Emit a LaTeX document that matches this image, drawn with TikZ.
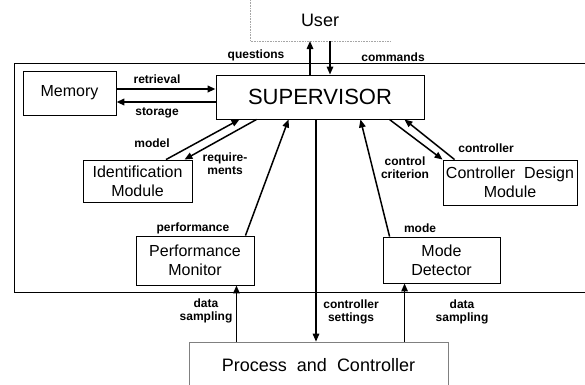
\documentclass[tikz,border=0pt]{standalone}
\usepackage{fontspec}
\setmainfont{Liberation Sans}
\usetikzlibrary{arrows.meta,calc}
\begin{document}
\begin{tikzpicture}[x=1pt,y=-1pt,
  box/.style={draw,line width=0.9pt,inner sep=0pt,align=center,font=\fontsize{16}{19}\selectfont},
  lab/.style={font=\bfseries\fontsize{12}{13}\selectfont,inner sep=0pt,align=center},
  arr/.style={line width=1.5pt,-{Triangle[length=8pt,width=6.5pt]}},
  thickarr/.style={arr,line width=2.4pt},
  frame/.style={line width=0.8pt},
  faint/.style={gray!70,line width=0.6pt,densely dotted}
]
\useasboundingbox (0,0) rectangle (585,384);
\clip (0,0) rectangle (585,384);

% outer frame
\coordinate (ftr) at (585,63);
\coordinate (ftl) at (14,63);
\coordinate (fbl) at (14,292);
\coordinate (fbr) at (585,292);
\draw[frame] (ftr) -- (ftl) -- (fbl) -- (fbr);

% user
\node[font=\fontsize{18}{20}\selectfont,inner sep=0pt] (user) at (320,20) {User};
\coordinate (utl) at (250,0);
\coordinate (ubl) at (250,41);
\coordinate (ubr) at (390,41);
\draw[faint] (utl) -- (ubl) -- (ubr);

% boxes
\node[box,minimum width=93pt,minimum height=44pt] (mem) at (69.5,93) {Memory};
\node[box,minimum width=208pt,minimum height=44pt,font=\fontsize{22}{24}\selectfont] (sup) at (320,97) {SUPERVISOR};
\node[box,minimum width=109pt,minimum height=42pt] (ident) at (137.5,181) {Identification\\Module};
\node[box,minimum width=134pt,minimum height=45pt] (cdm) at (510,182.5) {Controller\ \ Design\\Module};
\node[box,minimum width=118pt,minimum height=49pt] (pm) at (195,260.5) {Performance\\Monitor};
\node[box,minimum width=117pt,minimum height=46pt] (md) at (441.5,260) {Mode\\Detector};
\node[box,draw=gray,line width=0.7pt,minimum width=259pt,minimum height=46pt,font=\fontsize{18}{20}\selectfont] (proc) at (318.5,365) {Process\ \ and\ \ Controller};

% user arrows
\draw[arr] ([xshift=-10pt]sup.north) -- ([xshift=-10pt]sup.north |- ubl);
\draw[arr] ([xshift=10pt]sup.north |- ubl) -- ([xshift=10pt]sup.north);
\node[lab] (lq) at (256,55) {questions};
\node[lab] (lc) at (393,57) {commands};

% memory arrows
\draw[thickarr] ([yshift=4pt]mem.east) -- ([yshift=4pt]mem.east -| sup.west);
\draw[thickarr] ([yshift=-9pt]mem.east -| sup.west) -- ([yshift=-9pt]mem.east);
\node[lab] (lret) at (157,79) {retrieval};
\node[lab] (lsto) at (157,113) {storage};

% identification
\draw[arr] ([xshift=28.5pt]ident.north) -- ([xshift=24pt]sup.south west);
\draw[arr] ([xshift=41pt]sup.south west) -- ([xshift=-8pt]ident.north east);
\node[lab] (lmod) at (152,143) {model};
\node[lab] (lreq) at (225,164) {require-\\ments};

% controller design
\draw[arr] ([xshift=-35pt]sup.south east) -- (cdm.north west);
\draw[arr] ([xshift=12pt]cdm.north west) -- ([xshift=-20pt]sup.south east);
\node[lab] (lctl) at (486,148) {controller};
\node[lab] (lcc) at (405,168) {control\\criterion};

% performance & mode
\draw[arr] ([xshift=-9pt]pm.north east) -- ([xshift=73pt]sup.south west);
\draw[arr] ([xshift=7pt]md.north west) -- ([xshift=-64pt]sup.south east);
\node[lab] (lperf) at (193,228) {performance};
\node[lab] (lmode) at (420,228) {mode};

% process links
\draw[arr] ([xshift=-4pt]sup.south) -- ([xshift=-4pt]sup.south |- proc.north);
\draw[arr] ([xshift=-18pt]pm.south east |- proc.north) -- ([xshift=-18pt]pm.south east);
\draw[arr] ([xshift=22pt]md.south west |- proc.north) -- ([xshift=22pt]md.south west);
\node[lab] (lds1) at (206,311) {data\\sampling};
\node[lab] (lcs) at (351,312) {controller\\settings};
\node[lab] (lds2) at (462,312) {data\\sampling};
\end{tikzpicture}
\end{document}
